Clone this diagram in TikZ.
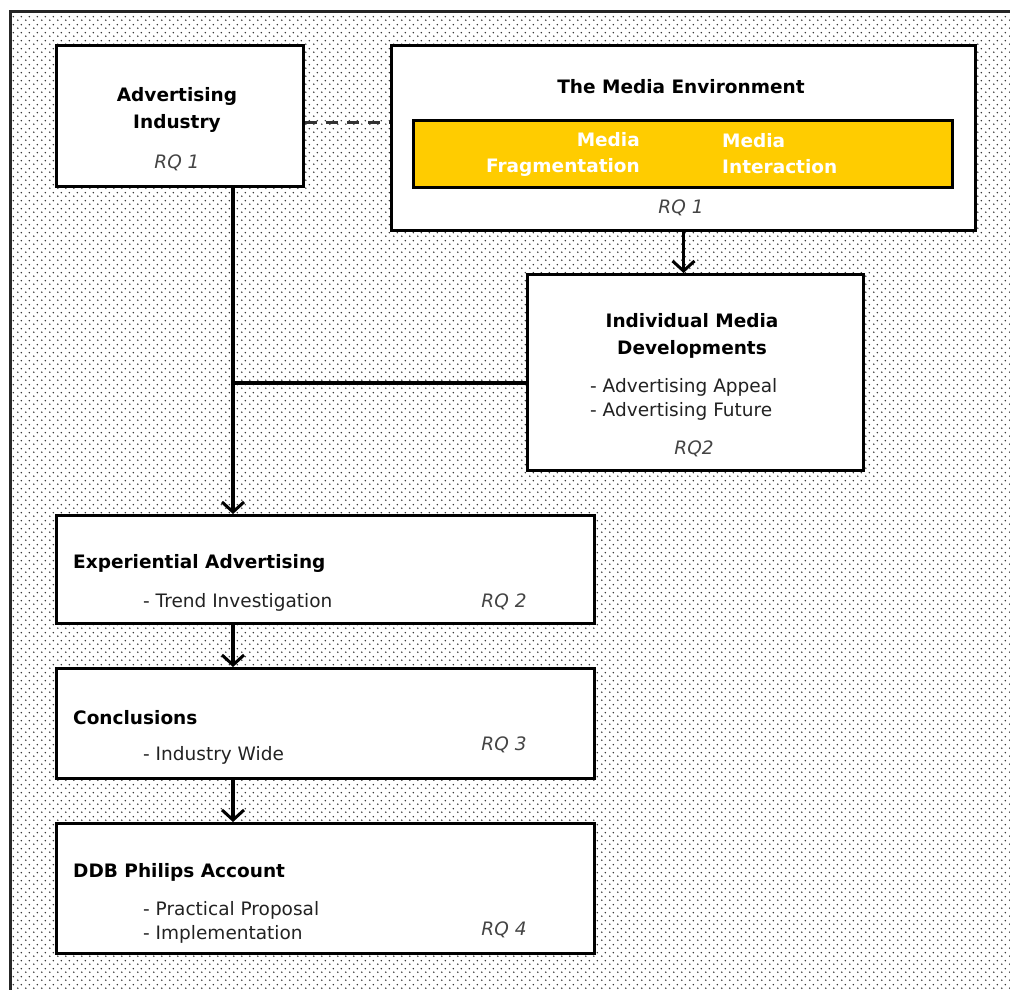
\documentclass[tikz,border=0pt]{standalone}
\usepackage{fontspec}
\setmainfont{DejaVu Sans}
\usetikzlibrary{patterns,arrows.meta}
\pgfdeclarepatternformonly{mydots}{\pgfpointorigin}{\pgfqpoint{8pt}{8pt}}{\pgfqpoint{8pt}{8pt}}{%
  \pgfpathcircle{\pgfqpoint{2pt}{2pt}}{0.9pt}%
  \pgfpathcircle{\pgfqpoint{6pt}{6pt}}{0.9pt}%
  \pgfusepath{fill}}
\definecolor{yel}{HTML}{FFCC00}
\definecolor{txt}{HTML}{222222}
\definecolor{rq}{HTML}{444444}
\tikzset{
  box/.style={draw=black, line width=3pt, fill=white, inner sep=0pt, anchor=north west},
  ttl/.style={font=\bfseries\fontsize{18.5}{27}\selectfont, align=center, inner sep=0pt, text=black},
  lefttl/.style={font=\bfseries\fontsize{18.5}{27}\selectfont, anchor=west, inner sep=0pt, text=black},
  bul/.style={font=\fontsize{18.5}{24}\selectfont, align=left, anchor=west, inner sep=0pt, text=txt},
  rqt/.style={font=\itshape\fontsize{18.5}{20}\selectfont, inner sep=0pt, text=rq},
  ytxt/.style={font=\bfseries\fontsize{18.5}{26}\selectfont, inner sep=0pt, text=white},
  conn/.style={draw=black, line width=3.5pt},
  arr/.style={-{Straight Barb[length=10pt,width=22pt,line width=3pt]}}
}
\begin{document}
\begin{tikzpicture}[x=1pt,y=-1pt]
\useasboundingbox (0,0) rectangle (1010,990);
% background
\fill[white] (0,0) rectangle (1010,990);
\fill[pattern=mydots, pattern color=black!85] (10,12) rectangle (1012,992);
\draw[line width=3pt, black!85] (10,992) -- (10,12) -- (1012,12);
% boxes
\node[box, minimum width=247pt, minimum height=141pt] (adv) at (55,44) {};
\node[box, minimum width=584pt, minimum height=185pt] (med) at (390,44) {};
\node[box, fill=yel, minimum width=539pt, minimum height=67pt] (yb) at (412,119) {};
\node[box, minimum width=336pt, minimum height=196pt] (ind) at (526,273) {};
\node[box, minimum width=538pt, minimum height=108pt] (exp) at (55,514) {};
\node[box, minimum width=538pt, minimum height=110pt] (con) at (55,667) {};
\node[box, minimum width=538pt, minimum height=130pt] (ddb) at (55,822) {};
% texts
\node[ttl] (advt) at (177,110) {Advertising\\Industry};
\node[rqt] (advrq) at (177,163) {RQ 1};
\node[ttl] (medt) at (681,87) {The Media Environment};
\node[ytxt, align=right, anchor=east] (frag) at (640,154) {Media\\Fragmentation};
\node[ytxt, align=left, anchor=west] (inter) at (722,154) {Media\\Interaction};
\node[rqt] (medrq) at (681,208) {RQ 1};
\node[ttl] (indt) at (692,336) {Individual Media\\Developments};
\node[bul] (indb) at (590,399) {- Advertising Appeal\\- Advertising Future};
\node[rqt] (indrq) at (694,449) {RQ2};
\node[lefttl] (expt) at (73,563) {Experiential Advertising};
\node[bul] (expb) at (143,602) {- Trend Investigation};
\node[rqt] (exprq) at (504,602) {RQ 2};
\node[lefttl] (cont) at (73,718) {Conclusions};
\node[bul] (conb) at (143,755) {- Industry Wide};
\node[rqt] (conrq) at (504,745) {RQ 3};
\node[lefttl] (ddbt) at (73,872) {DDB Philips Account};
\node[bul] (ddbb) at (143,922) {- Practical Proposal\\- Implementation};
\node[rqt] (ddbrq) at (504,930) {RQ 4};
% connectors
\coordinate (vx) at (233,0);
\coordinate (hy) at (0,383);
\coordinate (dy) at (0,122);
\draw[line width=3pt, black!80, dash pattern=on 12pt off 9pt] (adv.east |- dy) -- (med.west |- dy);
\draw[conn, arr] (med.south) -- (med.south |- ind.north);
\draw[conn] (ind.west |- hy) -- (vx |- hy);
\draw[conn, arr] (adv.south -| vx) -- (exp.north -| vx);
\draw[conn, arr] (exp.south -| vx) -- (con.north -| vx);
\draw[conn, arr] (con.south -| vx) -- (ddb.north -| vx);
\end{tikzpicture}
\end{document}
